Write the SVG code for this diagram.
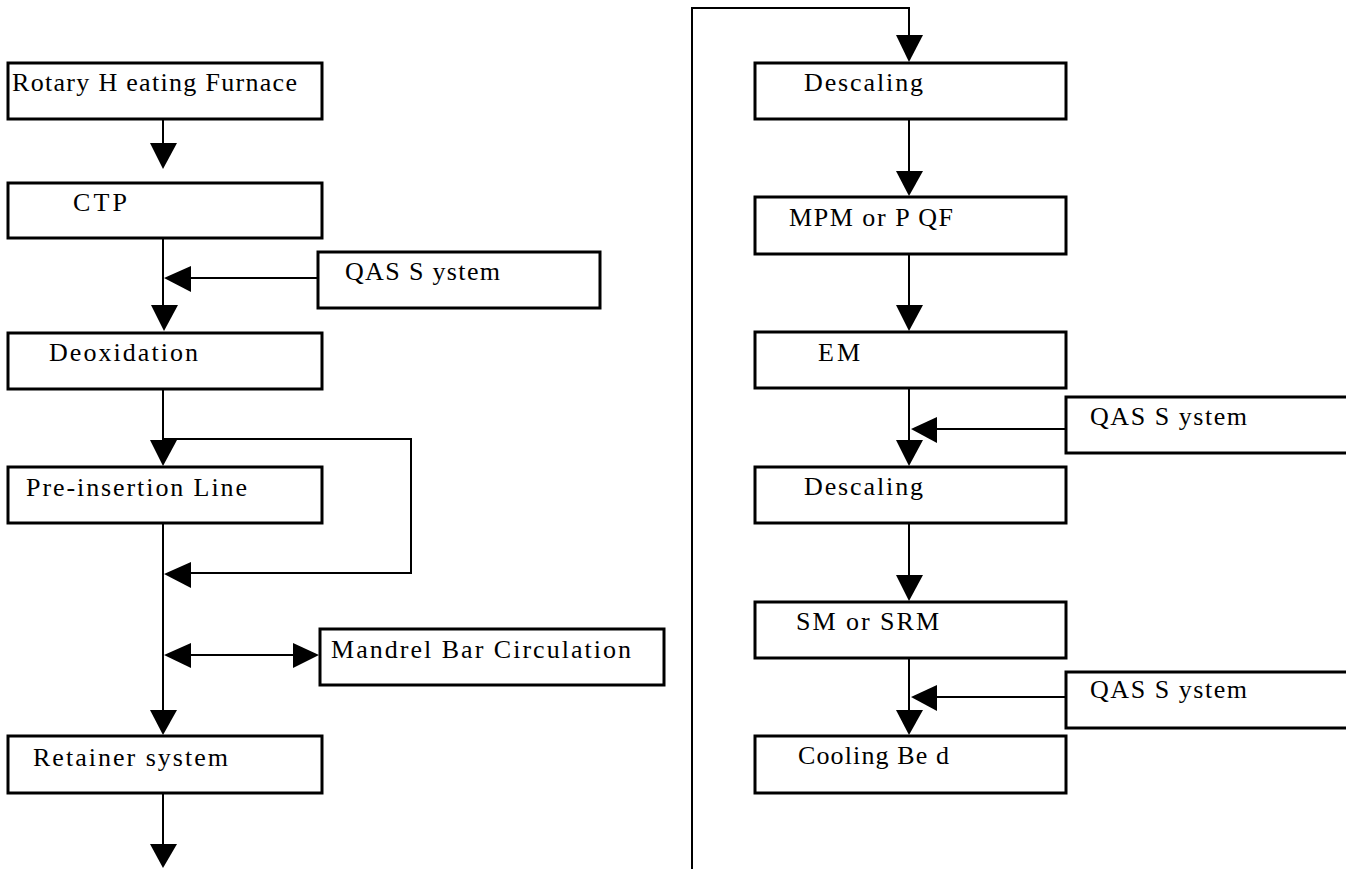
<svg xmlns="http://www.w3.org/2000/svg" width="1346" height="869" viewBox="0 0 1346 869">
<style>
.box{fill:#fff;stroke:#000;stroke-width:3}
.t{font-family:"Liberation Serif","Times New Roman",serif;font-size:26px;fill:#000}
.c{fill:none;stroke:#000;stroke-width:2}
.h{fill:#000;stroke:none}
</style>
<rect width="1346" height="869" fill="#fff"/>
<g id="connectors">
<!-- left column -->
<line class="c" x1="163" y1="113" x2="163" y2="150"/>
<polygon class="h" points="150,143 177,143 163,169"/>
<line class="c" x1="163" y1="222" x2="163" y2="312"/>
<polygon class="h" points="151,305 178,305 164,331"/>
<line class="c" x1="318" y1="278" x2="185" y2="278"/>
<polygon class="h" points="164,278 191,266 191,292"/>
<line class="c" x1="163" y1="383" x2="163" y2="445"/>
<polygon class="h" points="150,440 177,440 163,466"/>
<polyline class="c" points="163,439 411,439 411,573 185,573"/>
<polygon class="h" points="164,574 191,562 191,588"/>
<line class="c" x1="163" y1="518" x2="163" y2="715"/>
<line class="c" x1="185" y1="655" x2="298" y2="655"/>
<polygon class="h" points="164,655 191,643 191,668"/>
<polygon class="h" points="319,655 293,643 293,668"/>
<polygon class="h" points="150,710 177,710 163,735"/>
<line class="c" x1="163" y1="788" x2="163" y2="850"/>
<polygon class="h" points="150,844 177,844 163,868"/>
<!-- right column -->
<polyline class="c" points="692,869 692,8 909,8 909,40"/>
<polygon class="h" points="896,35 923,35 909,62"/>
<line class="c" x1="909" y1="114" x2="909" y2="176"/>
<polygon class="h" points="896,171 923,171 909,196"/>
<line class="c" x1="909" y1="249" x2="909" y2="310"/>
<polygon class="h" points="896,305 923,305 909,331"/>
<line class="c" x1="909" y1="383" x2="909" y2="445"/>
<polygon class="h" points="896,440 923,440 909,466"/>
<line class="c" x1="1066" y1="429" x2="930" y2="429"/>
<polygon class="h" points="911,429 937,417 937,443"/>
<line class="c" x1="909" y1="518" x2="909" y2="580"/>
<polygon class="h" points="896,575 923,575 909,601"/>
<line class="c" x1="909" y1="653" x2="909" y2="715"/>
<polygon class="h" points="896,710 923,710 909,735"/>
<line class="c" x1="1066" y1="697" x2="930" y2="697"/>
<polygon class="h" points="911,697 937,685 937,711"/>
</g>
<g id="rotary"><rect class="box" x="8" y="63" width="314" height="56"/><text class="t" x="12" y="91" textLength="285" lengthAdjust="spacing">Rotary H eating Furnace</text></g>
<g id="ctp"><rect class="box" x="8" y="183" width="314" height="55"/><text class="t" x="73" y="211" textLength="54" lengthAdjust="spacing">CTP</text></g>
<g id="qas1"><rect class="box" x="318" y="252" width="282" height="56"/><text class="t" x="345" y="280" textLength="155" lengthAdjust="spacing">QAS S ystem</text></g>
<g id="deox"><rect class="box" x="8" y="333" width="314" height="56"/><text class="t" x="49" y="361" textLength="149" lengthAdjust="spacing">Deoxidation</text></g>
<g id="preinsertion"><rect class="box" x="8" y="467" width="314" height="56"/><text class="t" x="26" y="496" textLength="221" lengthAdjust="spacing">Pre-insertion Line</text></g>
<g id="mandrel"><rect class="box" x="320" y="629" width="344" height="56"/><text class="t" x="331" y="658" textLength="300" lengthAdjust="spacing">Mandrel Bar Circulation</text></g>
<g id="retainer"><rect class="box" x="8" y="736" width="314" height="57"/><text class="t" x="33" y="766" textLength="195" lengthAdjust="spacing">Retainer system</text></g>
<g id="descaling1"><rect class="box" x="755" y="63" width="311" height="56"/><text class="t" x="804" y="91" textLength="119" lengthAdjust="spacing">Descaling</text></g>
<g id="mpm"><rect class="box" x="755" y="197" width="311" height="57"/><text class="t" x="789" y="226" textLength="164" lengthAdjust="spacing">MPM or P QF</text></g>
<g id="em"><rect class="box" x="755" y="332" width="311" height="56"/><text class="t" x="818" y="361" textLength="42" lengthAdjust="spacing">EM</text></g>
<g id="qas2"><rect class="box" x="1066" y="397" width="283" height="56"/><text class="t" x="1090" y="425" textLength="157" lengthAdjust="spacing">QAS S ystem</text></g>
<g id="descaling2"><rect class="box" x="755" y="467" width="311" height="56"/><text class="t" x="804" y="495" textLength="119" lengthAdjust="spacing">Descaling</text></g>
<g id="sm"><rect class="box" x="755" y="602" width="311" height="56"/><text class="t" x="796" y="630" textLength="143" lengthAdjust="spacing">SM or SRM</text></g>
<g id="qas3"><rect class="box" x="1066" y="672" width="283" height="56"/><text class="t" x="1090" y="698" textLength="157" lengthAdjust="spacing">QAS S ystem</text></g>
<g id="cooling"><rect class="box" x="755" y="736" width="311" height="57"/><text class="t" x="798" y="764" textLength="151" lengthAdjust="spacing">Cooling Be d</text></g>
</svg>
